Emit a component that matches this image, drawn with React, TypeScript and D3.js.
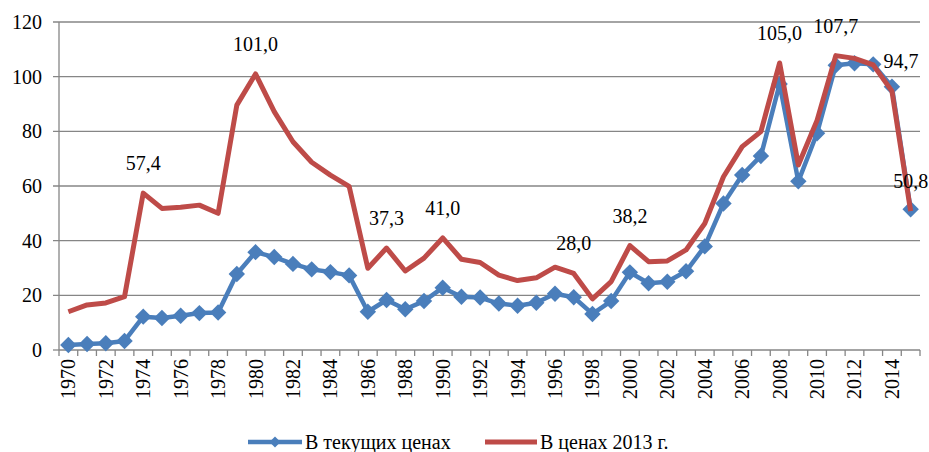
import React from "react";
import * as d3 from "d3";

// years on the category axis
const years: number[] = d3.range(1970, 2016);

// nominal prices, $/bbl
const current: number[] = [
  1.8, 2.2, 2.5, 3.3, 12.2, 11.7, 12.5, 13.5, 13.7, 27.8,
  35.8, 34.0, 31.5, 29.5, 28.5, 27.3, 14.0, 18.3, 14.9, 17.9,
  22.8, 19.5, 19.2, 17.0, 16.2, 17.3, 20.6, 19.3, 13.2, 17.9,
  28.4, 24.4, 25.0, 28.8, 37.9, 53.6, 64.0, 71.0, 97.3, 61.7,
  79.3, 104.2, 104.9, 104.5, 96.3, 51.5,
];

// prices in 2013 dollars
const real2013: number[] = [
  14.0, 16.5, 17.2, 19.5, 57.4, 51.8, 52.2, 53.0, 50.0, 89.6,
  101.0, 87.2, 76.2, 68.7, 64.0, 59.9, 29.9, 37.3, 28.9, 33.6,
  41.0, 33.2, 32.0, 27.4, 25.4, 26.4, 30.3, 28.0, 18.7, 25.0,
  38.2, 32.3, 32.6, 36.6, 46.3, 63.4, 74.4, 79.9, 105.0, 67.7,
  84.0, 107.7, 106.7, 104.3, 94.7, 50.8,
];

// years that carry a value label on the red line
const labelYears: number[] = [1974, 1980, 1987, 1990, 1997, 2000, 2008, 2011, 2014, 2015];
const yTicks: number[] = [0, 20, 40, 60, 80, 100, 120];
const legendNames: string[] = ["В текущих ценах", "В ценах 2013 г."];

const BLUE = "#4a7ebb";
const RED = "#be4b48";
const GRID = "#868686";
const FONT = "Liberation Serif";

const W = 929, H = 452;
const m = { left: 59, right: 920, top: 22, bottom: 350 };

export default function App() {
  const x = d3.scaleBand<number>().domain(years).range([m.left, m.right]).padding(0);
  const cx = (yr: number) => (x(yr) as number) + x.bandwidth() / 2;
  const y = d3.scaleLinear().domain([0, 120]).range([m.bottom, m.top]);

  const line = d3.line<number>()
    .x((_, i) => cx(years[i]))
    .y((d) => y(d));
  const diamond = d3.symbol(d3.symbolSquare, 135)() as string;
  const smallDiamond = d3.symbol(d3.symbolSquare, 60)() as string;
  const fmt = (v: number) => d3.format(".1f")(v).replace(".", ",");

  return (
    <svg width={W} height={H} style={{ position: "absolute", left: 0, top: 0, background: "#fff" }}>
      {/* gridlines + y axis */}
      {yTicks.map((t) => (
        <g key={t}>
          <line x1={m.left - 6} x2={t > 0 ? m.right : m.left} y1={y(t)} y2={y(t)} stroke={GRID} strokeWidth={1.3} />
          <text x={m.left - 17} y={y(t)} dy="0.35em" textAnchor="end" fontFamily={FONT} fontSize={20}>{t}</text>
        </g>
      ))}
      <line x1={m.left} x2={m.left} y1={m.top} y2={m.bottom} stroke={GRID} strokeWidth={1.3} />

      {/* x axis */}
      <line x1={m.left} x2={m.right} y1={m.bottom} y2={m.bottom} stroke={GRID} strokeWidth={1.3} />
      {d3.range(years.length + 1).map((i) => (
        <line key={i} x1={m.left + i * x.bandwidth()} x2={m.left + i * x.bandwidth()}
          y1={m.bottom} y2={m.bottom + 6} stroke={GRID} strokeWidth={1.3} />
      ))}
      {years.filter((yr) => yr % 2 === 0).map((yr) => (
        <text key={yr} transform={`translate(${cx(yr) + 7},${m.bottom + 9}) rotate(-90)`}
          textAnchor="end" fontFamily={FONT} fontSize={20}>{yr}</text>
      ))}

      {/* blue series */}
      <path d={line(current) as string} fill="none" stroke={BLUE} strokeWidth={4.5} strokeLinejoin="round" />
      {current.map((v, i) => (
        <path key={i} d={diamond} transform={`translate(${cx(years[i])},${y(v)}) rotate(45)`} fill={BLUE} />
      ))}

      {/* red series */}
      <path d={line(real2013) as string} fill="none" stroke={RED} strokeWidth={5} strokeLinejoin="round" />

      {/* value labels */}
      {labelYears.map((yr) => {
        const v = real2013[years.indexOf(yr)];
        return (
          <text key={yr} x={cx(yr) + (yr === 2014 ? 9 : 0)} y={y(v) - 23} textAnchor="middle"
            fontFamily={FONT} fontSize={20}>
            {fmt(v)}
          </text>
        );
      })}

      {/* legend */}
      <g transform="translate(0,442)">
        <line x1={248} x2={302} y1={0} y2={0} stroke={BLUE} strokeWidth={4.5} />
        <path d={smallDiamond} transform="translate(275,0) rotate(45)" fill={BLUE} />
        <text x={305} y={7} fontFamily={FONT} fontSize={20}>{legendNames[0]}</text>
        <line x1={485} x2={537} y1={0} y2={0} stroke={RED} strokeWidth={5} />
        <text x={540} y={7} fontFamily={FONT} fontSize={20}>{legendNames[1]}</text>
      </g>
    </svg>
  );
}
